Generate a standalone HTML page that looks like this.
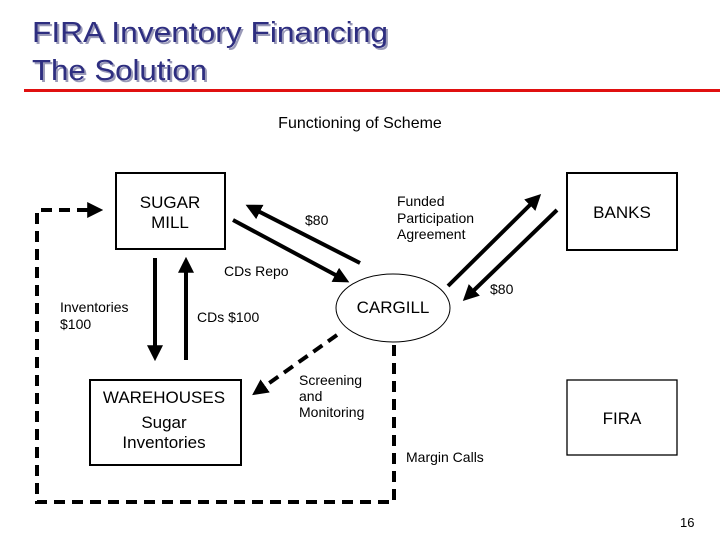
<!DOCTYPE html>
<html><head><style>
html,body{margin:0;padding:0;background:#fff;}
svg{display:block;}
text{font-family:"Liberation Sans",sans-serif;}
</style></head><body>
<svg width="720" height="540" viewBox="0 0 720 540" xmlns="http://www.w3.org/2000/svg">
<defs>
<marker id="ah" markerWidth="4" markerHeight="4" refX="2.2" refY="2" orient="auto" markerUnits="strokeWidth">
<path d="M0,0 L4,2 L0,4 z" fill="#000"/></marker>
</defs>
<!-- title -->
<g font-size="29" fill="#9a9ab8">
<text x="34" y="44" textLength="356" lengthAdjust="spacingAndGlyphs">FIRA Inventory Financing</text>
<text x="34" y="82" textLength="175" lengthAdjust="spacingAndGlyphs">The Solution</text></g>
<g font-size="29" fill="#2e2e80">
<text x="32" y="42" textLength="356" lengthAdjust="spacingAndGlyphs">FIRA Inventory Financing</text>
<text x="32" y="80" textLength="175" lengthAdjust="spacingAndGlyphs">The Solution</text></g>
<rect x="24" y="89" width="696" height="3" fill="#e01010"/>
<text x="360" y="128" font-size="16" text-anchor="middle">Functioning of Scheme</text>

<!-- boxes -->
<g fill="none" stroke="#000" stroke-width="2">
<rect x="116" y="173" width="109" height="76"/>
<rect x="567" y="173" width="110" height="77"/>
<rect x="90" y="380" width="151" height="85"/>
</g>
<rect x="567" y="380" width="110" height="75" fill="none" stroke="#000" stroke-width="1.3"/>
<ellipse cx="393" cy="308" rx="57" ry="34" fill="none" stroke="#000" stroke-width="1"/>

<g font-size="17" text-anchor="middle">
<text x="170" y="208">SUGAR</text><text x="170" y="228">MILL</text>
<text x="622" y="218">BANKS</text>
<text x="622" y="424">FIRA</text>
<text x="393" y="313">CARGILL</text>
<text x="164" y="403">WAREHOUSES</text>
<text x="164" y="428">Sugar</text>
<text x="164" y="448">Inventories</text>
</g>

<!-- solid arrows -->
<g stroke="#000" stroke-width="4" fill="none" marker-end="url(#ah)">
<line x1="233" y1="220" x2="343" y2="279"/>
<line x1="360" y1="263" x2="252" y2="208"/>
<line x1="448" y1="286" x2="536" y2="199"/>
<line x1="557" y1="210" x2="468" y2="296"/>
<line x1="155" y1="258" x2="155" y2="354"/>
<line x1="186" y1="360" x2="186" y2="264"/>
</g>

<!-- dashed -->
<g stroke="#000" stroke-width="4" fill="none" stroke-dasharray="11,7">
<line x1="337" y1="335" x2="258" y2="391" marker-end="url(#ah)"/>
<polyline points="394,345 394,502 37,502 37,210 96,210" marker-end="url(#ah)"/>
</g>

<!-- labels -->
<g font-size="14">
<text x="305" y="225">$80</text>
<text x="397" y="206">Funded</text>
<text x="397" y="223">Participation</text>
<text x="397" y="239">Agreement</text>
<text x="224" y="276">CDs Repo</text>
<text x="490" y="294">$80</text>
<text x="60" y="312">Inventories</text>
<text x="60" y="329">$100</text>
<text x="197" y="322">CDs $100</text>
<text x="299" y="385">Screening</text>
<text x="299" y="401">and</text>
<text x="299" y="417">Monitoring</text>
<text x="406" y="462">Margin Calls</text>
</g>
<text x="680" y="527" font-size="13" font-family="Liberation Serif, serif">16</text>
</svg>
</body></html>
